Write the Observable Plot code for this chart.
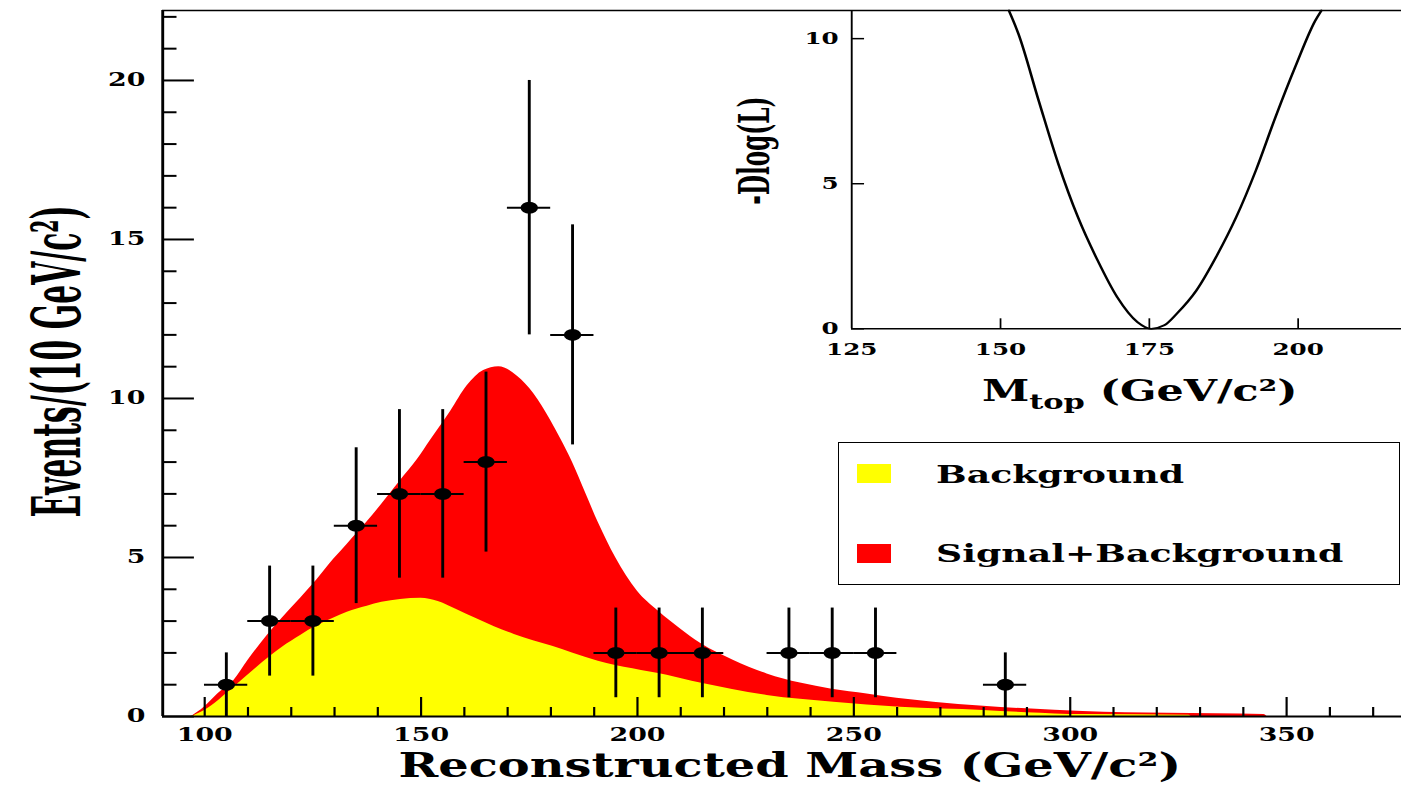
<!DOCTYPE html>
<html><head><meta charset="utf-8">
<script src="https://cdn.jsdelivr.net/npm/d3@7"></script>
<script src="https://cdn.jsdelivr.net/npm/@observablehq/plot@0.6"></script>
<style>
html,body{margin:0;padding:0;background:#fff;}
#wrap{position:relative;width:1401px;height:786px;overflow:hidden;}
#wrap svg{position:absolute;left:0;top:0;}
.lg{position:absolute;font-family:'DejaVu Serif',serif;font-weight:bold;color:#000;}
</style></head><body><div id="wrap"></div>
<script>
// ---- data ----
const massBins    = [105, 115, 125, 135, 145, 155, 165, 175, 185, 195, 205, 215, 235, 245, 255, 285];
const events      = [1, 3, 3, 6, 7, 7, 8, 16, 12, 2, 2, 2, 2, 2, 2, 1];
const eventErrors = [1, 1.73, 1.73, 2.45, 2.65, 2.65, 2.83, 4, 3.46, 1.41, 1.41, 1.41, 1.41, 1.41, 1.41, 1];
const binHalfWidth = 5;

const sbMass   = [97, 100, 103, 106.8, 110, 114.5, 118, 122.2, 126, 129.9, 133, 137.6, 141, 145.3, 149.2, 152.2, 156.9, 160.7, 164.5, 168, 172.3, 176.1, 180, 182.3, 185, 188, 191, 195, 200, 205, 210, 214.6, 222.3, 230, 237.7, 245, 253.1, 260, 268.5, 280, 290, 303, 322.5, 344.8, 345.5];
const sbEvents = [0, 0.3, 0.7, 1.13, 1.75, 2.55, 3.1, 3.72, 4.3, 4.95, 5.42, 6.12, 6.68, 7.42, 8.08, 8.68, 9.6, 10.4, 10.88, 11.0, 10.7, 10.15, 9.31, 8.73, 8.0, 7.05, 6.1, 5.0, 3.95, 3.3, 2.75, 2.3, 1.76, 1.34, 1.05, 0.86, 0.71, 0.57, 0.45, 0.32, 0.24, 0.16, 0.1, 0.06, 0];

const bkgMass   = [97, 100, 106.8, 110, 115.3, 118, 122.2, 126, 129.9, 133, 137.6, 141, 145.3, 150, 154, 158, 162.9, 167, 171.6, 176, 180.4, 185, 191, 199, 206.9, 214.6, 222, 230, 245.4, 260.8, 280, 290, 303, 327.5, 328];
const bkgEvents = [0, 0.19, 0.92, 1.3, 1.9, 2.18, 2.55, 2.85, 3.1, 3.28, 3.47, 3.59, 3.68, 3.72, 3.62, 3.38, 3.07, 2.82, 2.58, 2.38, 2.21, 2.0, 1.74, 1.5, 1.3, 1.05, 0.85, 0.66, 0.45, 0.29, 0.19, 0.12, 0.06, 0.04, 0];

const mTop  = [151.4, 153.0, 156.4, 159.7, 163.0, 166.3, 169.6, 173.0, 175.3, 177.5, 179.6, 182.9, 186.2, 189.6, 192.9, 196.2, 199.5, 202.9, 203.9];
const dLogL = [10.97, 10.17, 7.87, 5.69, 3.85, 2.36, 1.09, 0.23, 0, 0.12, 0.52, 1.32, 2.47, 3.85, 5.46, 7.3, 9.02, 10.63, 10.97];

const xMajorTicks = [100, 150, 200, 250, 300, 350];
const xMinorTicks = [110, 120, 130, 140, 160, 170, 180, 190, 210, 220, 230, 240, 260, 270, 280, 290, 310, 320, 330, 340, 360, 370];
const yMajorTicks = [0, 5, 10, 15, 20];
const yMinorTicks = [1, 2, 3, 4, 6, 7, 8, 9, 11, 12, 13, 14, 16, 17, 18, 19, 21, 22];
const insetXTickLabels = [125, 150, 175, 200];
const insetXTicks = [150, 175, 200];
const insetYTicks = [0, 5, 10];

const xTitle = "Reconstructed Mass (GeV/c²)";
const yTitle = "Events/(10 GeV/c²)";
const insetXTitle = ["M", "top", " (GeV/c²)"];
const insetYTitle = "-Dlog(L)";
const legendLabels = ["Background", "Signal+Background"];
const legendColors = ["#ffff00", "#ff0000"];

// ---- layout ----
const W = 966, H = 786, SX = 1401 / W;
const FONT = "'DejaVu Serif', serif";
const points = massBins.map((m, i) => ({m, n: events[i], e: eventErrors[i]}));
const sb = sbMass.map((m, i) => ({m, v: sbEvents[i]}));
const bkg = bkgMass.map((m, i) => ({m, v: bkgEvents[i]}));
const like = mTop.map((m, i) => ({m, v: dLogL[i]}));

const mL = 162 / SX, mT = 10, mB = 70;
const fW = W - mL, fH = H - mT - mB;
const xDom = [90.3, 376.6], yDom = [0, 22.2];

function stretch(svg) {
  svg.setAttribute("width", 1401);
  svg.setAttribute("height", 786);
  svg.setAttribute("preserveAspectRatio", "none");
  Object.assign(svg.style, {width: "1401px", height: "786px", maxWidth: "none", background: "transparent", overflow: "visible", fontFamily: FONT, fontWeight: "bold"});
}
function findText(svg, str) {
  return Array.from(svg.querySelectorAll("text")).find(t => t.textContent === str);
}

const main = Plot.plot({
  width: W, height: H, marginLeft: mL, marginRight: 0, marginTop: mT, marginBottom: mB,
  x: {domain: xDom}, y: {domain: yDom},
  style: {background: "transparent", fontFamily: FONT, fontWeight: "bold"},
  marks: [
    Plot.areaY(sb, {x: "m", y: "v", fill: "#ff0000", curve: "monotone-x"}),
    Plot.areaY(bkg, {x: "m", y: "v", fill: "#ffff00", curve: "monotone-x"}),
    Plot.ruleX(xMajorTicks, {x: d => d, insetTop: fH - 19, stroke: "#000", strokeWidth: 1.5}),
    Plot.ruleX(xMinorTicks, {x: d => d, insetTop: fH - 9, stroke: "#000", strokeWidth: 1.5}),
    Plot.ruleY(yMajorTicks, {y: d => d, insetRight: fW - 22, stroke: "#000", strokeWidth: 2}),
    Plot.ruleY(yMinorTicks, {y: d => d, insetRight: fW - 10, stroke: "#000", strokeWidth: 2}),
    Plot.axisX({ticks: xMajorTicks, tickSize: 0, tickPadding: 11, fontSize: 18.5, label: null, tickFormat: d => String(d)}),
    Plot.axisY({ticks: yMajorTicks, tickSize: 0, tickPadding: 12, fontSize: 18.5, label: null, tickFormat: d => String(d)}),
    Plot.ruleX([xDom[0]], {stroke: "#000", strokeWidth: 2}),
    Plot.ruleY([yDom[0]], {stroke: "#000", strokeWidth: 2}),
    Plot.ruleY([yDom[1]], {stroke: "#000", strokeWidth: 1.5}),
    Plot.ruleX(points, {x: "m", y1: d => d.n - d.e, y2: d => d.n + d.e, stroke: "#000", strokeWidth: 2}),
    Plot.ruleY(points, {y: "n", x1: d => d.m - binHalfWidth, x2: d => d.m + binHalfWidth, stroke: "#000", strokeWidth: 2}),
    Plot.dot(points, {x: "m", y: "n", r: 6, fill: "#000", stroke: "none"}),
    Plot.text([xTitle], {text: d => d, frameAnchor: "bottom", textAnchor: "middle", lineAnchor: "middle", dx: (789 - 781.5) / SX, dy: 50, fontSize: 33, fill: "#000"}),
    Plot.text([yTitle], {text: d => d, frameAnchor: "left", textAnchor: "middle", lineAnchor: "middle", rotate: -90, dx: 40 - mL, dy: -2, fontSize: 46, fill: "#000"})
  ]
});
stretch(main);
const yt = findText(main, yTitle);
if (yt) { yt.setAttribute("textLength", 312); yt.setAttribute("lengthAdjust", "spacingAndGlyphs"); }

// ---- inset ----
const iL = 851 / SX, iT = 10, iB = H - 328.3;
const iFW = W - iL, iFH = H - iT - iB;
const ixDom = [125, 217.4], iyDom = [0, 10.97];
const inset = Plot.plot({
  width: W, height: H, marginLeft: iL, marginRight: 0, marginTop: iT, marginBottom: iB,
  x: {domain: ixDom}, y: {domain: iyDom},
  style: {background: "transparent", fontFamily: FONT, fontWeight: "bold"},
  marks: [
    Plot.ruleX(insetXTicks, {x: d => d, insetTop: iFH - 10, stroke: "#000", strokeWidth: 1.2}),
    Plot.ruleY(insetYTicks, {y: d => d, insetRight: iFW - 9, stroke: "#000", strokeWidth: 1.5}),
    Plot.axisX({ticks: insetXTickLabels, tickSize: 0, tickPadding: 14, fontSize: 17, label: null, tickFormat: d => String(d)}),
    Plot.axisY({ticks: insetYTicks, tickSize: 0, tickPadding: 9, fontSize: 17, label: null, tickFormat: d => String(d)}),
    Plot.ruleX([ixDom[0]], {stroke: "#000", strokeWidth: 1.3}),
    Plot.ruleY([iyDom[0]], {stroke: "#000", strokeWidth: 1.6}),
    Plot.line(like, {x: "m", y: "v", stroke: "#000", strokeWidth: 1.8, curve: "monotone-x"}),
    Plot.text([insetXTitle.join("")], {text: d => d, frameAnchor: "bottom", textAnchor: "middle", lineAnchor: "middle", dx: 13 / SX, dy: 63, fontSize: 29.5, fill: "#000"}),
    Plot.text([insetYTitle], {text: d => d, frameAnchor: "left", textAnchor: "middle", lineAnchor: "middle", rotate: -90, dx: 755 / SX - iL, dy: -19, fontSize: 29, fill: "#000"})
  ]
});
stretch(inset);
const iyt = findText(inset, insetYTitle);
if (iyt) { iyt.setAttribute("textLength", 108); iyt.setAttribute("lengthAdjust", "spacingAndGlyphs"); }
const it = findText(inset, insetXTitle.join(""));
if (it) {
  const ns = "http://www.w3.org/2000/svg";
  it.textContent = "";
  const parts = [[insetXTitle[0], {}], [insetXTitle[1], {dy: "8", "font-size": "21"}], [insetXTitle[2], {dy: "-8", "font-size": "29.5"}]];
  for (const [s, a] of parts) {
    const t = document.createElementNS(ns, "tspan");
    t.textContent = s;
    for (const k in a) t.setAttribute(k, a[k]);
    it.appendChild(t);
  }
}

const wrap = document.getElementById("wrap");
wrap.appendChild(main);
wrap.appendChild(inset);

// ---- legend ----
const lg = document.createElement("div");
Object.assign(lg.style, {position: "absolute", left: "838px", top: "442px", width: "562px", height: "143px", border: "1.5px solid #000", boxSizing: "border-box", background: "#fff"});
const swTop = [21, 101], txtTop = [18.5, 98];
legendLabels.forEach((lab, i) => {
  const sw = document.createElement("div");
  Object.assign(sw.style, {position: "absolute", left: "18px", top: swTop[i] + "px", width: "34px", height: "19px", background: legendColors[i]});
  lg.appendChild(sw);
  const tx = document.createElement("div");
  tx.className = "lg";
  tx.textContent = lab;
  Object.assign(tx.style, {left: "97px", top: txtTop[i] + "px", fontSize: "25px", lineHeight: "25px", whiteSpace: "nowrap", transform: "scaleX(1.45)", transformOrigin: "left center"});
  lg.appendChild(tx);
});
wrap.appendChild(lg);
</script></body></html>
